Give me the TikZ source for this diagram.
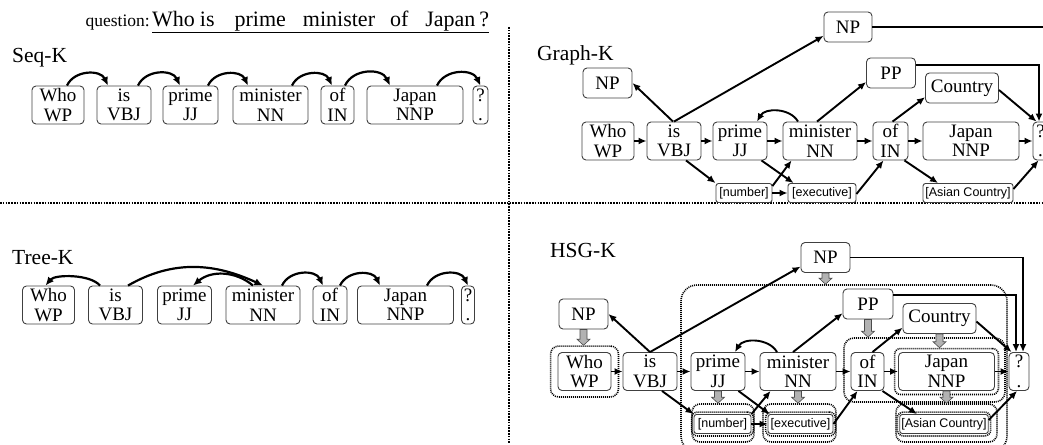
\documentclass[tikz,border=0pt]{standalone}
\usepackage{fontspec}
\setmainfont{Liberation Serif}
\newfontfamily\mysansf{Liberation Sans}
\usetikzlibrary{arrows.meta,calc,fit}
\newcommand\myfw{\fontsize{19}{19.5}\selectfont}
\newcommand\myfs{\mysansf\fontsize{12.5}{13}\selectfont}
\newcommand\myfl{\fontsize{21.5}{24}\selectfont}
\newcommand\fatarr[2]{%
  \path (#1) coordinate (fatA);
  \path (#2) coordinate (fatB);
  \filldraw[fatstyle] ($(fatA)+(-3.5,0)$) -- ($(fatB)+(-3.5,6)$) -- ($(fatB)+(-6.5,6)$) -- (fatB)
    -- ($(fatB)+(6.5,6)$) -- ($(fatB)+(3.5,6)$) -- ($(fatA)+(3.5,0)$) -- cycle;}
\begin{document}
\begin{tikzpicture}[x=1pt,y=1pt,
  wb/.style={draw=black!75, rounded corners=4pt, line width=0.9pt, align=center, font=\myfw,
    inner sep=0.5pt, minimum height=38pt},
  pb/.style={draw=black!75, rounded corners=4pt, line width=0.9pt, font=\myfw,
    inner sep=1pt, minimum height=30pt},
  sb/.style={draw=black!75, rounded corners=2.5pt, line width=0.9pt, font=\myfs,
    inner sep=1.5pt, minimum height=19pt},
  arr/.style={line width=1.9pt, -{Latex[length=8pt,width=7pt]}},
  arc/.style={line width=2.2pt, -{Latex[length=8.5pt,width=7.5pt]}},
  grp/.style={draw, line width=1.6pt, dash pattern=on 1pt off 1pt, rounded corners=6pt, inner sep=0pt},
  sepln/.style={line width=2pt, dash pattern=on 1.6pt off 1.2pt},
  lbl/.style={font=\myfl, anchor=west, inner sep=0pt},
  fatstyle/.style={fill=black!30, draw=black!70, line width=0.6pt},
]
\useasboundingbox (0,0) rectangle (1043,-444);
\clip (0,0) rectangle (1043,-444);

% separators
\coordinate (vt) at (509,-27); \coordinate (vb) at (509,-444);
\coordinate (hl) at (0,-203); \coordinate (hr) at (1043,-203);
\draw[sepln] (vt) -- (vb);
\draw[sepln] (hl) -- (hr);

% title
\node[font=\fontsize{17.5}{20}\selectfont, anchor=base east, inner sep=0pt] (qlab) at (150,-27) {question:};
\node[font=\fontsize{22}{24}\selectfont, anchor=base west, inner sep=0pt] (qtxt) at (152,-27)
  {Who\hspace{5pt}is\hspace{20pt}prime\hspace{17pt}minister\hspace{15pt}of\hspace{17pt}Japan\hspace{4pt}?};
\draw[line width=1pt] ($(qtxt.base west)+(0,-6)$) -- ($(qtxt.base east)+(0,-6)$);

% ---------------- Seq-K
\node[lbl] (seqk) at (12,-58) {Seq-K};
\node[wb, minimum width=52pt] (s1) at (58,-105) {Who\\WP};
\node[wb, minimum width=54pt] (s2) at (124,-105) {is\\VBJ};
\node[wb, minimum width=55pt] (s3) at (190.5,-105) {prime\\JJ};
\node[wb, minimum width=75pt] (s4) at (270.5,-105) {minister\\NN};
\node[wb, minimum width=33pt] (s5) at (337.5,-105) {of\\IN};
\node[wb, minimum width=96pt] (s6) at (415,-105) {Japan\\NNP};
\node[wb, minimum width=15pt] (s7) at (480.5,-105) {?\\.};
\draw[arc] ($(s1.north)+(9,0)$) to[out=65,in=115,looseness=1.1] ($(s2.north)+(-16,0)$);
\draw[arc] ($(s2.north)+(14,0)$) to[out=65,in=115,looseness=1.1] ($(s3.north)+(-10.5,0)$);
\draw[arc] ($(s3.north)+(17.5,0)$) to[out=65,in=115,looseness=1.1] ($(s4.north)+(-22.5,0)$);
\draw[arc] ($(s4.north)+(21.5,0)$) to[out=65,in=115,looseness=1.1] ($(s5.north)+(-5.5,0)$);
\draw[arc] ($(s5.north)+(7.5,0)$) to[out=65,in=115,looseness=1.1] ($(s6.north)+(-25,0)$);
\draw[arc] ($(s6.north)+(22,0)$) to[out=65,in=115,looseness=1.1] ($(s7.north)+(0,0)$);

% ---------------- Tree-K
\node[lbl] (treek) at (12,-258) {Tree-K};
\node[wb, minimum width=52pt] (t1) at (48.5,-305) {Who\\WP};
\node[wb, minimum width=54pt] (t2) at (115.5,-305) {is\\VBJ};
\node[wb, minimum width=54pt] (t3) at (184.5,-305) {prime\\JJ};
\node[wb, minimum width=74pt] (t4) at (263,-305) {minister\\NN};
\node[wb, minimum width=34pt] (t5) at (330,-305) {of\\IN};
\node[wb, minimum width=96pt] (t6) at (405.5,-305) {Japan\\NNP};
\node[wb, minimum width=13pt] (t7) at (468,-305) {?\\.};
\draw[arc] ($(t2.north)+(-15.5,0)$) to[out=130,in=50,looseness=0.7] ($(t1.north)+(-3,0)$);
\draw[arc] ($(t2.north)+(12.5,0)$) to[out=30,in=155] ($(t4.north)+(0,0)$);
\draw[arc] ($(t4.north)+(-10,0)$) to[out=140,in=40] ($(t3.north)+(8.5,0)$);
\draw[arc] ($(t4.north)+(19,0)$) to[out=65,in=115,looseness=1.1] ($(t5.north)+(-7,0)$);
\draw[arc] ($(t5.north)+(10,0)$) to[out=65,in=115,looseness=1.1] ($(t6.north)+(-25.5,0)$);
\draw[arc] ($(t6.north)+(21.5,0)$) to[out=65,in=115,looseness=1.1] ($(t7.north)+(0,0)$);

% ---------------- Graph-K
\node[lbl] (graphk) at (537,-55) {Graph-K};
\node[wb, minimum width=52pt] (g1) at (608,-141) {Who\\WP};
\node[wb, minimum width=54pt] (g2) at (674,-141) {is\\VBJ};
\node[wb, minimum width=54pt] (g3) at (740,-141) {prime\\JJ};
\node[wb, minimum width=74pt] (g4) at (820,-141) {minister\\NN};
\node[wb, minimum width=35pt] (g5) at (890.5,-141) {of\\IN};
\node[wb, minimum width=96pt] (g6) at (971,-141) {Japan\\NNP};
\node[wb, minimum width=15pt] (g7) at (1040.5,-141) {?\\.};
\node[pb, minimum width=49pt] (gnpl) at (607.5,-83) {NP};
\node[pb, minimum width=48pt] (gnpt) at (848,-27) {NP};
\node[pb, minimum width=49pt] (gpp) at (891,-73) {PP};
\node[pb, minimum width=73pt] (gcty) at (962,-88) {Country};
\node[sb, minimum width=56pt] (gnum) at (744,-193) {[number]};
\node[sb, minimum width=68pt] (gexe) at (822,-193) {[executive]};
\node[sb, minimum width=90pt] (gasi) at (968,-193) {[Asian Country]};
\draw[arr] (g1.east) -- (g2.west);
\draw[arr] (g2.east) -- (g3.west);
\draw[arr] (g3.east) -- (g4.west);
\draw[arr] (g4.east) -- (g5.west);
\draw[arr] (g5.east) -- (g6.west);
\draw[arr] (g6.east) -- (g7.west);
\draw[arr] ($(g2.north)+(-1,0)$) -- (gnpl.east);
\draw[arr] ($(g2.north)+(0,0)$) -- (gnpt.200);
\draw[arr] ($(g4.north)+(-22,0)$) to[out=120,in=60] ($(g3.north)+(17,0)$);
\draw[arr] ($(g4.north)+(-3,0)$) -- (gpp.200);
\draw[arr] ($(g5.north)+(2,0)$) -- (gcty.194);
\draw[arr] ($(gcty.east)+(0,-2)$) -- ($(g7.north)+(-4,0)$);
\draw[arr] ($(gpp.north east)+(0,-7)$) -| ($(g7.north)+(-1.5,0)$);
\draw[arr] (gnpt.east) -| ($(g7.north)+(9,0)$);
\draw[arr] ($(g2.south)+(12,0)$) -- (gnum.north west);
\draw[arr] ($(g3.south east)+(-6,0)$) -- ($(gexe.north west)+(6,0)$);
\draw[arr] ($(gnum.north east)+(0,-3)$) -- ($(g4.south west)+(9,0)$);
\draw[arr] (gnum.east) -- (gexe.west);
\draw[arr] ($(gexe.east)+(0,-1)$) -- ($(g5.south)+(-7,0)$);
\draw[arr] ($(g5.south east)+(-4,0)$) -- ($(gasi.north)+(-30,0)$);
\draw[arr] ($(gasi.east)+(0,4)$) -- ($(g7.south)+(-2,0)$);

% ---------------- HSG-K
\node[lbl] (hsgk) at (550,-250) {HSG-K};
\node[wb, minimum width=53pt] (h1) at (584.5,-371.5) {Who\\WP};
\node[wb, minimum width=54pt] (h2) at (650,-371.5) {is\\VBJ};
\node[wb, minimum width=54pt] (h3) at (718,-371.5) {prime\\JJ};
\node[wb, minimum width=76pt] (h4) at (798,-371.5) {minister\\NN};
\node[wb, minimum width=33pt] (h5) at (867.5,-371.5) {of\\IN};
\node[wb, minimum width=96pt] (h6) at (946.5,-371.5) {Japan\\NNP};
\node[wb, minimum width=20pt] (h7) at (1019,-371.5) {?\\.};
\node[pb, minimum width=49pt] (hnpl) at (583.5,-314) {NP};
\node[pb, minimum width=49pt] (hnpt) at (825.5,-257.5) {NP};
\node[pb, minimum width=50pt] (hpp) at (868,-304) {PP};
\node[pb, minimum width=73pt] (hcty) at (939.5,-318.5) {Country};
\node[sb, minimum width=57pt] (hnum) at (722.5,-424) {[number]};
\node[sb, minimum width=65pt] (hexe) at (800.5,-424) {[executive]};
\node[sb, minimum width=86pt] (hasi) at (944,-424) {[Asian Country]};

% groups
\coordinate (bgA) at (681,-285); \coordinate (bgB) at (1007,-452);
\node[grp, rounded corners=16pt, fit=(bgA)(bgB)] (hbig) {};
\coordinate (ojA) at (844,-338); \coordinate (ojB) at (1005,-402);
\node[grp, rounded corners=10pt, fit=(ojA)(ojB)] (hgoj) {};
\node[grp, fit=(h6), inner sep=3.5pt] (hgj) {};
\node[grp, rounded corners=8pt, fit=(h1), inner xsep=7pt, inner ysep=6pt] (hgw) {};
\node[grp, fit=(hnum), inner sep=2pt] (hgn1) {};
\node[grp, fit=(hexe), inner sep=2pt] (hge1) {};
\node[grp, fit=(hasi), inner sep=2pt] (hga1) {};
\coordinate (nA) at (692,-404); \coordinate (nB) at (754,-442);
\node[grp, rounded corners=8pt, fit=(nA)(nB)] (hgn2) {};
\coordinate (eA) at (763,-404); \coordinate (eB) at (836,-442);
\node[grp, rounded corners=8pt, fit=(eA)(eB)] (hge2) {};
\coordinate (aA) at (896,-404); \coordinate (aB) at (997,-442);
\node[grp, rounded corners=8pt, fit=(aA)(aB)] (hga2) {};

% grey hierarchy arrows
\fatarr{hnpl.south}{hnpl.south |- hgw.north}
\fatarr{hnpt.south}{hnpt.south |- hbig.north}
\fatarr{hpp.south}{hpp.south |- hgoj.north}
\fatarr{hcty.south}{hcty.south |- hgj.north}
\fatarr{h3.south}{h3.south |- hgn2.north}
\fatarr{h4.south}{h4.south |- hge2.north}
\fatarr{h6.south}{h6.south |- hga2.north}

% black arrows
\draw[arr] (h1.east) -- (h2.west);
\draw[arr] (h2.east) -- (h3.west);
\draw[arr] (h3.east) -- (h4.west);
\draw[arr] (h4.east) -- (h5.west);
\draw[arr] (h5.east) -- (h6.west);
\draw[arr] (h6.east) -- (h7.west);
\draw[arr] (h2.north) -- (hnpl.east);
\draw[arr] (h2.north) -- (hnpt.200);
\draw[arr] ($(h4.north)+(-21,0)$) to[out=120,in=60] ($(h3.north)+(17,0)$);
\draw[arr] ($(h4.north)+(-5,0)$) -- (hpp.200);
\draw[arr] ($(h5.north)+(5,0)$) -- (hcty.194);
\draw[arr] ($(hcty.east)+(0,-3)$) -- ($(h7.north west)+(3,0)$);
\draw[arr] ($(hpp.north east)+(0,-6)$) -| ($(h7.north)+(-3,0)$);
\draw[arr] (hnpt.east) -| ($(h7.north)+(4,0)$);
\draw[arr] ($(h2.south)+(12,0)$) -- (hnum.north west);
\draw[arr] ($(h3.south east)+(-7,0)$) -- ($(hexe.north west)+(2,0)$);
\draw[arr] (hnum.north east) -- ($(h4.south west)+(11,0)$);
\draw[arr] (hnum.east) -- (hexe.west);
\draw[arr] (hexe.east) -- ($(h5.south)+(-10,0)$);
\draw[arr] ($(h5.south east)+(-2,0)$) -- ($(hasi.north)+(-27,0)$);
\draw[arr] ($(hasi.east)+(0,4)$) -- ($(h7.south)+(-2,0)$);
\end{tikzpicture}
\end{document}
